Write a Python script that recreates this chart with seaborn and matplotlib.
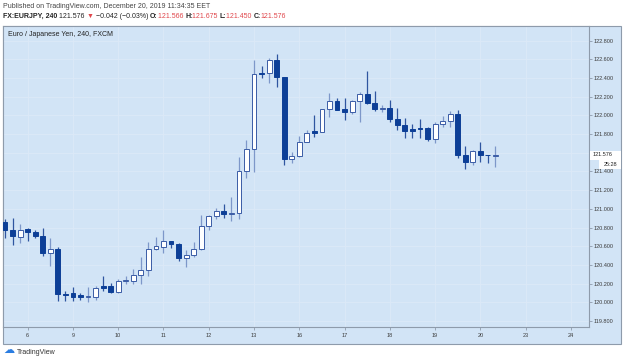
import pandas as pd
import matplotlib.pyplot as plt
import seaborn as sns
from matplotlib.patches import Rectangle

# EUR/JPY 240 min candles
opens = [120.86, 120.77, 120.70, 120.78, 120.75, 120.71, 120.53, 120.57, 120.09, 120.10,
         120.08, 120.06, 120.06, 120.17, 120.17, 120.11, 120.23, 120.23, 120.29, 120.34,
         120.57, 120.59, 120.655, 120.62, 120.47, 120.51, 120.57, 120.82, 120.92, 120.98,
         120.945, 120.95, 121.40, 121.64, 122.45, 122.45, 122.59, 122.41, 121.53, 121.57,
         121.71, 121.835, 121.82, 122.065, 122.155, 122.065, 122.04, 122.155, 122.23, 122.135,
         122.065, 122.075, 121.96, 121.90, 121.855, 121.87, 121.87, 121.745, 121.905, 121.94,
         122.015, 121.576, 121.50, 121.62, 121.576, 121.566]
highs = [120.89, 120.90, 120.84, 120.80, 120.77, 120.80, 120.69, 120.59, 120.12, 120.16,
         120.10, 120.16, 120.17, 120.28, 120.21, 120.25, 120.28, 120.36, 120.48, 120.65,
         120.70, 120.77, 120.66, 120.63, 120.56, 120.65, 120.93, 120.93, 121.01, 121.05,
         121.13, 121.55, 121.74, 122.59, 122.53, 122.61, 122.66, 122.41, 121.61, 121.78,
         121.84, 122.00, 122.07, 122.24, 122.19, 122.19, 122.17, 122.25, 122.47, 122.265,
         122.11, 122.165, 122.08, 121.97, 121.905, 121.96, 121.875, 121.93, 121.99, 122.05,
         122.06, 121.676, 121.625, 121.72, 121.58, 121.675]
lows = [120.69, 120.61, 120.63, 120.66, 120.69, 120.50, 120.39, 120.01, 120.01, 120.01,
        120.02, 120.00, 120.02, 120.12, 120.10, 120.10, 120.195, 120.20, 120.20, 120.28,
        120.56, 120.53, 120.58, 120.44, 120.38, 120.48, 120.56, 120.77, 120.89, 120.90,
        120.87, 120.89, 121.33, 121.39, 122.40, 122.35, 122.30, 121.47, 121.49, 121.56,
        121.71, 121.77, 121.82, 121.98, 122.055, 121.95, 122.015, 121.93, 122.12, 122.05,
        122.04, 121.93, 121.84, 121.76, 121.755, 121.76, 121.725, 121.70, 121.88, 121.88,
        121.54, 121.426, 121.47, 121.50, 121.487, 121.450]
closes = [120.77, 120.71, 120.77, 120.75, 120.71, 120.53, 120.57, 120.09, 120.08, 120.06,
          120.06, 120.07, 120.15, 120.155, 120.11, 120.23, 120.235, 120.29, 120.34, 120.57,
          120.60, 120.66, 120.62, 120.47, 120.51, 120.57, 120.82, 120.92, 120.98, 120.945,
          120.95, 121.40, 121.64, 122.44, 122.44, 122.59, 122.41, 121.53, 121.57, 121.71,
          121.815, 121.815, 122.065, 122.155, 122.06, 122.04, 122.155, 122.23, 122.135, 122.065,
          122.075, 121.96, 121.90, 121.83, 121.835, 121.85, 121.745, 121.905, 121.94, 122.015,
          121.576, 121.504, 121.62, 121.576, 121.574, 121.576]

day_labels = ['6', '9', '10', '11', '12', '13', '16', '17', '18', '19', '20', '23', '24']
price_ticks = [119.8, 120.0, 120.2, 120.4, 120.6, 120.8, 121.0, 121.2, 121.4,
               121.6, 121.8, 122.0, 122.2, 122.4, 122.6, 122.8]
last_price = 121.576
countdown = '25:28'

df = pd.DataFrame({'open': opens, 'high': highs, 'low': lows, 'close': closes})
df['bar'] = range(len(df))
df['up'] = df['close'] >= df['open']
df['body_lo'] = df[['open', 'close']].min(axis=1)
df['body_h'] = (df['close'] - df['open']).abs()

sns.set_theme(style='white')
plt.rcParams['font.family'] = ['Liberation Sans', 'DejaVu Sans']

W, H = 625, 361
bg = '#d2e4f6'
border = '#8e9bab'
down_col = '#0d3f97'
up_edge = '#3a5ca6'
txt = '#3c3c3c'
red = '#e0474c'

fig = plt.figure(figsize=(W / 100, H / 100), dpi=100)
fig.patch.set_facecolor('white')

# chart panel incl. price scale and time scale strips
fig.patches.append(Rectangle((3 / W, 1 - 344 / H), 618 / W, 318 / H, transform=fig.transFigure,
                             facecolor=bg, edgecolor=border, lw=0.8, zorder=-1))

ax = fig.add_axes([3 / W, 1 - 327 / H, 586 / W, 301 / H])
ax.set_facecolor(bg)

up = df[df['up']]
dn = df[~df['up']]
ax.vlines(up['bar'], up['low'], up['high'], color='#7d97c9', lw=0.9, zorder=2)
ax.vlines(dn['bar'], dn['low'], dn['high'], color='#2f55a0', lw=0.9, zorder=2)
ax.bar(up['bar'], up['body_h'], bottom=up['body_lo'], width=0.64,
       color='white', edgecolor=up_edge, lw=0.7, zorder=3)
ax.bar(dn['bar'], dn['body_h'], bottom=dn['body_lo'], width=0.64,
       color=down_col, edgecolor=down_col, lw=0.7, zorder=3)

# the 121.600 label sits under the last-price marker, so it is left blank
ylabels = ['' if abs(v - last_price) < 0.05 else f'{v:.3f}' for v in price_ticks]
ax.set_xticks([3 + 6 * k for k in range(len(day_labels))], day_labels)
ax.set_yticks(price_ticks, ylabels)
ax.yaxis.tick_right()
ax.set_xlim(-0.27, 77.4)
ax.set_ylim(119.735, 122.957)
ax.grid(True, color='#dce9f8', lw=0.6)
ax.tick_params(axis='x', bottom=True, length=2, width=0.6, color=border, pad=2,
               labelsize=4, labelcolor=txt)
ax.tick_params(axis='y', right=True, length=2, width=0.6, color=border, pad=1.5,
               labelsize=4, labelcolor=txt)
for s in ax.spines.values():
    s.set_color(border)
    s.set_linewidth(0.8)

ax.text(0.008, 0.982, 'Euro / Japanese Yen, 240, FXCM', transform=ax.transAxes,
        ha='left', va='top', fontsize=5, color='#222222')

# last price marker on the price scale
fig.patches.append(Rectangle((590 / W, 1 - 159.5 / H), 31 / W, 9 / H, transform=fig.transFigure,
                             facecolor='white', edgecolor='none', zorder=4))
fig.patches.append(Rectangle((599 / W, 1 - 168.5 / H), 22 / W, 9 / H, transform=fig.transFigure,
                             facecolor='white', edgecolor='none', zorder=4))
fig.text(593 / W, 1 - 155 / H, f'{last_price:.3f}', ha='left', va='center',
         fontsize=4, color='#222222', zorder=5)
fig.text(617 / W, 1 - 164 / H, countdown, ha='right', va='center',
         fontsize=4, color='#222222', zorder=5)

# header lines
fig.text(3 / W, 1 - 6.5 / H, 'Published on TradingView.com, December 20, 2019 11:34:35 EET',
         ha='left', va='center', fontsize=5, color='#444444')

pieces = [('FX:EURJPY, 240 ', '#222222', 'bold'), ('121.576 ', '#222222', 'normal'),
          ('▼', red, 'normal'), (' −0.042 (−0.03%) ', '#222222', 'normal'),
          ('O:', '#222222', 'bold'), ('121.566 ', red, 'normal'),
          ('H:', '#222222', 'bold'), ('121.675 ', red, 'normal'),
          ('L:', '#222222', 'bold'), ('121.450 ', red, 'normal'),
          ('C:', '#222222', 'bold'), ('121.576', red, 'normal')]
renderer = fig.canvas.get_renderer()
x = 3 / W
for s, c, w in pieces:
    t = fig.text(x, 1 - 16 / H, s, ha='left', va='center', fontsize=5, color=c,
                 weight=w, family=['Liberation Sans', 'DejaVu Sans'])
    x += t.get_window_extent(renderer).width / W

# footer logo
fig.text(3 / W, 1 - 350 / H, '☁', ha='left', va='center', fontsize=8,
         color='#2a7de1', family='DejaVu Sans')
fig.text(17 / W, 1 - 352 / H, 'TradingView', ha='left', va='center',
         fontsize=5, color='#333333')

fig.savefig('out.png', dpi=100, facecolor='white')
